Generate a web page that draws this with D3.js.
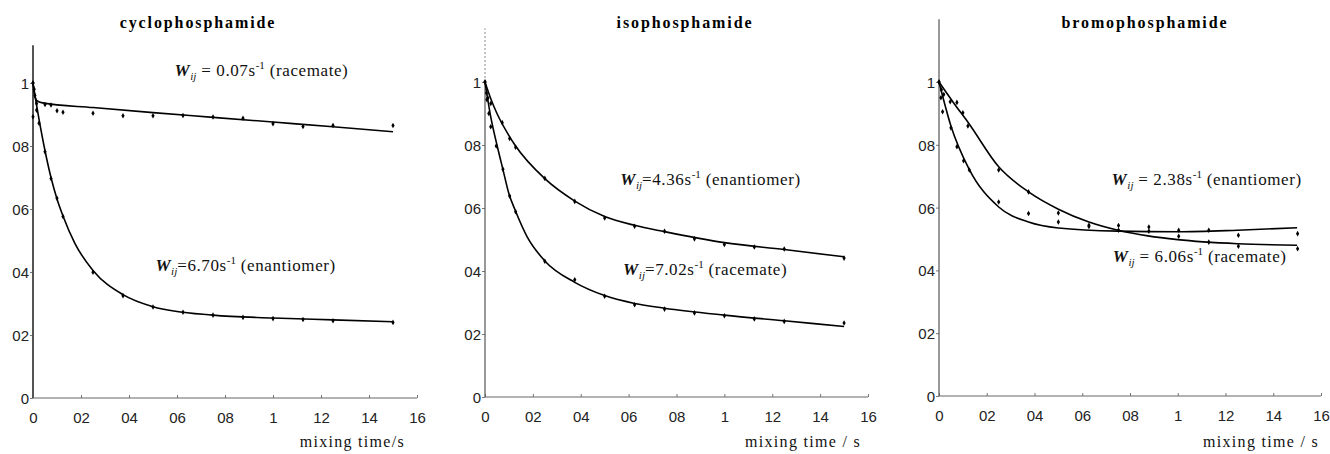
<!DOCTYPE html>
<html>
<head>
<meta charset="utf-8">
<script src="https://cdn.jsdelivr.net/npm/d3@7"></script>
<style>
  body { margin: 0; background: #fff; }
  svg { display: block; }
  .tick text { font-family: "Liberation Sans", Arial, sans-serif; font-size: 15px; fill: #222; }
  .tick line { stroke: #777; }
  .title { font-family: "Liberation Serif", "Times New Roman", serif; font-weight: bold; font-size: 16px; letter-spacing: 1.9px; }
  .note { font-family: "Liberation Serif", "Times New Roman", serif; font-size: 17px; letter-spacing: 0.6px; fill: #111; }
  .xlabel { font-family: "Liberation Serif", "Times New Roman", serif; font-size: 16px; letter-spacing: 1.3px; fill: #111; }
</style>
</head>
<body>
<svg id="chart" width="1330" height="454"></svg>
<script>
// tick values and labels (decimal points are missing in the original)
const xTicks = [0, 0.2, 0.4, 0.6, 0.8, 1.0, 1.2, 1.4, 1.6]
const xTickLabels = ["0", "02", "04", "06", "08", "1", "12", "14", "16"]
const yTicks = [0, 0.2, 0.4, 0.6, 0.8, 1.0]
const yTickLabels = ["0", "02", "04", "06", "08", "1"]

const titles = ["cyclophosphamide", "isophosphamide", "bromophosphamide"]
const xLabels = ["mixing time/s", "mixing time / s", "mixing time / s"]

// cyclophosphamide
const cycloRacT = [0, 0, 0.005, 0.015, 0.05, 0.075, 0.1, 0.125, 0.25, 0.375, 0.5, 0.625, 0.75, 0.875, 1.0, 1.125, 1.25, 1.5]
const cycloRacV = [1.0, 0.893, 0.98, 0.935, 0.932, 0.93, 0.912, 0.907, 0.904, 0.896, 0.896, 0.897, 0.892, 0.888, 0.871, 0.862, 0.865, 0.865]
const cycloEnaT = [0, 0.008, 0.015, 0.025, 0.05, 0.075, 0.1, 0.125, 0.25, 0.375, 0.5, 0.625, 0.75, 0.875, 1.0, 1.125, 1.25, 1.5]
const cycloEnaV = [1.0, 0.96, 0.914, 0.872, 0.782, 0.697, 0.634, 0.576, 0.399, 0.325, 0.289, 0.272, 0.263, 0.256, 0.252, 0.249, 0.245, 0.240]
const cycloRacFitT = [0, 0.005, 0.015, 0.04, 0.25, 0.5, 0.75, 1.0, 1.25, 1.5]
const cycloRacFitV = [1.0, 0.97, 0.945, 0.937, 0.922, 0.906, 0.891, 0.876, 0.861, 0.845]
const cycloEnaFitT = [0, 0.0125, 0.025, 0.05, 0.075, 0.1, 0.125, 0.175, 0.25, 0.375, 0.5, 0.75, 1.0, 1.25, 1.5]
const cycloEnaFitV = [1.0, 0.94, 0.885, 0.785, 0.7, 0.632, 0.578, 0.49, 0.405, 0.328, 0.29, 0.263, 0.254, 0.248, 0.242]

// isophosphamide
const isoEnaT = [0, 0.006, 0.012, 0.024, 0.072, 0.103, 0.128, 0.25, 0.375, 0.5, 0.625, 0.75, 0.875, 1.0, 1.125, 1.25, 1.5]
const isoEnaV = [1.0, 0.965, 0.949, 0.932, 0.871, 0.821, 0.793, 0.694, 0.621, 0.568, 0.542, 0.526, 0.502, 0.484, 0.476, 0.47, 0.441]
const isoRacT = [0, 0.008, 0.016, 0.024, 0.047, 0.075, 0.103, 0.128, 0.25, 0.375, 0.5, 0.625, 0.75, 0.875, 1.0, 1.125, 1.25, 1.5]
const isoRacV = [1.0, 0.944, 0.9, 0.858, 0.797, 0.723, 0.638, 0.588, 0.431, 0.372, 0.32, 0.293, 0.279, 0.267, 0.258, 0.248, 0.24, 0.235]
const isoEnaFitT = [0, 0.025, 0.05, 0.1, 0.125, 0.25, 0.375, 0.5, 0.625, 0.75, 1.0, 1.25, 1.5]
const isoEnaFitV = [1.0, 0.945, 0.9, 0.83, 0.8, 0.693, 0.622, 0.573, 0.545, 0.525, 0.49, 0.468, 0.445]
const isoRacFitT = [0, 0.025, 0.05, 0.075, 0.1, 0.125, 0.175, 0.25, 0.375, 0.5, 0.625, 0.75, 1.0, 1.25, 1.5]
const isoRacFitV = [1.0, 0.885, 0.8, 0.722, 0.645, 0.595, 0.51, 0.432, 0.364, 0.322, 0.297, 0.282, 0.26, 0.242, 0.224]

// bromophosphamide
const bromoEnaT = [0, 0.01, 0.02, 0.047, 0.075, 0.1, 0.121, 0.25, 0.375, 0.5, 0.628, 0.752, 0.879, 1.004, 1.13, 1.254, 1.502]
const bromoEnaV = [1.0, 0.975, 0.96, 0.937, 0.935, 0.902, 0.86, 0.72, 0.65, 0.583, 0.544, 0.543, 0.538, 0.509, 0.49, 0.477, 0.469]
const bromoRacT = [0, 0.008, 0.015, 0.05, 0.075, 0.103, 0.127, 0.25, 0.375, 0.5, 0.628, 0.752, 0.879, 1.004, 1.13, 1.254, 1.502]
const bromoRacV = [1.0, 0.95, 0.905, 0.854, 0.794, 0.749, 0.72, 0.618, 0.581, 0.554, 0.54, 0.528, 0.525, 0.528, 0.528, 0.512, 0.517]
const bromoEnaFitT = [0, 0.06, 0.125, 0.25, 0.375, 0.5, 0.625, 0.75, 0.875, 1.0, 1.25, 1.5]
const bromoEnaFitV = [1.0, 0.935, 0.868, 0.73, 0.65, 0.595, 0.555, 0.528, 0.51, 0.498, 0.485, 0.48]
const bromoRacFitT = [0, 0.05, 0.125, 0.25, 0.375, 0.5, 0.75, 1.0, 1.25, 1.5]
const bromoRacFitV = [1.0, 0.86, 0.724, 0.602, 0.554, 0.535, 0.525, 0.523, 0.528, 0.536]

const zip = (t, v) => t.map((d, i) => [d, v[i]])

// layout per panel (pixel frame) plus the annotation text
const panels = [
  {
    x0: 33, x1: 417, y0: 398, y1: 83, yTop: 1.12, dashTop: null, axisW: 2,
    titleX: 198, xLabelEnd: 405,
    points: [zip(cycloRacT, cycloRacV), zip(cycloEnaT, cycloEnaV)],
    fits: [zip(cycloRacFitT, cycloRacFitV), zip(cycloEnaFitT, cycloEnaFitV)],
    notes: [
      {t: 0.59, v: 1.022, eq: " = 0.07s", tail: " (racemate)"},
      {t: 0.51, v: 0.403, eq: "=6.70s", tail: " (enantiomer)"}
    ]
  },
  {
    x0: 485, x1: 868, y0: 397, y1: 82, yTop: 1.0, dashTop: 1.17, axisW: 1.2,
    titleX: 685, xLabelEnd: 861,
    points: [zip(isoEnaT, isoEnaV), zip(isoRacT, isoRacV)],
    fits: [zip(isoEnaFitT, isoEnaFitV), zip(isoRacFitT, isoRacFitV)],
    notes: [
      {t: 0.565, v: 0.673, eq: "=4.36s", tail: " (enantiomer)"},
      {t: 0.577, v: 0.387, eq: "=7.02s", tail: " (racemate)"}
    ]
  },
  {
    x0: 939, x1: 1321, y0: 396, y1: 82, yTop: 1.2, dashTop: null, axisW: 1.2,
    titleX: 1145, xLabelEnd: 1319,
    points: [zip(bromoEnaT, bromoEnaV), zip(bromoRacT, bromoRacV)],
    fits: [zip(bromoEnaFitT, bromoEnaFitV), zip(bromoRacFitT, bromoRacFitV)],
    notes: [
      {t: 0.723, v: 0.672, eq: " = 2.38s", tail: " (enantiomer)"},
      {t: 0.728, v: 0.427, eq: " = 6.06s", tail: " (racemate)"}
    ]
  }
]

const svg = d3.select("#chart")

panels.forEach((p, i) => {
  const x = d3.scaleLinear().domain([0, 1.6]).range([p.x0, p.x1])
  const y = d3.scaleLinear().domain([0, 1]).range([p.y0, p.y1])
  const g = svg.append("g").attr("class", "panel")

  // axes
  g.append("g")
    .attr("transform", `translate(0,${p.y0})`)
    .call(d3.axisBottom(x).tickValues(xTicks).tickSize(-3).tickPadding(14)
      .tickFormat((d, k) => xTickLabels[k]))
    .call(a => a.select(".domain").remove())

  g.append("g")
    .attr("transform", `translate(${p.x0},0)`)
    .call(d3.axisLeft(y).tickValues(yTicks).tickSize(3).tickPadding(1)
      .tickFormat((d, k) => yTickLabels[k]))
    .call(a => a.select(".domain").remove())
    .call(a => a.selectAll(".tick text").attr("dy", "0.36em"))

  g.append("line")
    .attr("x1", x(0)).attr("x2", x(1.6))
    .attr("y1", y(0)).attr("y2", y(0))
    .attr("stroke", "#666").attr("stroke-width", 1.2)
  g.append("line")
    .attr("x1", x(0)).attr("x2", x(0))
    .attr("y1", y(0)).attr("y2", y(p.yTop))
    .attr("stroke", "#555").attr("stroke-width", p.axisW)
  if (p.dashTop) {
    g.append("line")
      .attr("x1", x(0)).attr("x2", x(0))
      .attr("y1", y(p.yTop)).attr("y2", y(p.dashTop))
      .attr("stroke", "#888").attr("stroke-width", 1)
      .attr("stroke-dasharray", "2,2")
  }

  // fitted curves
  const line = d3.line()
    .x(d => x(d[0]))
    .y(d => y(d[1]))
    .curve(d3.curveMonotoneX)
  g.selectAll("path.fit")
    .data(p.fits)
    .join("path")
    .attr("class", "fit")
    .attr("d", line)
    .attr("fill", "none")
    .attr("stroke", "#000")
    .attr("stroke-width", 1.6)

  // measured points
  const sym = d3.symbol().type(d3.symbolDiamond).size(9)
  g.selectAll("path.pt")
    .data(p.points.flat())
    .join("path")
    .attr("class", "pt")
    .attr("transform", d => `translate(${x(d[0])},${y(d[1])})`)
    .attr("d", sym)
    .attr("fill", "#000")

  // title and x label
  g.append("text")
    .attr("class", "title")
    .attr("x", p.titleX).attr("y", 28)
    .attr("text-anchor", "middle")
    .text(titles[i])

  g.append("text")
    .attr("class", "xlabel")
    .attr("x", p.xLabelEnd).attr("y", 447)
    .attr("text-anchor", "end")
    .text(xLabels[i])

  // rate annotations
  p.notes.forEach(n => {
    const t = g.append("text")
      .attr("class", "note")
      .attr("x", x(n.t)).attr("y", y(n.v))
    t.append("tspan").attr("font-weight", "bold").attr("font-style", "italic").text("W")
    t.append("tspan").attr("font-style", "italic").attr("font-size", "11px")
      .attr("dy", 4).attr("letter-spacing", "0px").text("ij")
    t.append("tspan").attr("dy", -4).text(n.eq)
    t.append("tspan").attr("font-size", "11px").attr("dy", -7)
      .attr("letter-spacing", "0px").text("-1")
    t.append("tspan").attr("dy", 7).text(n.tail)
  })
})
</script>
</body>
</html>
